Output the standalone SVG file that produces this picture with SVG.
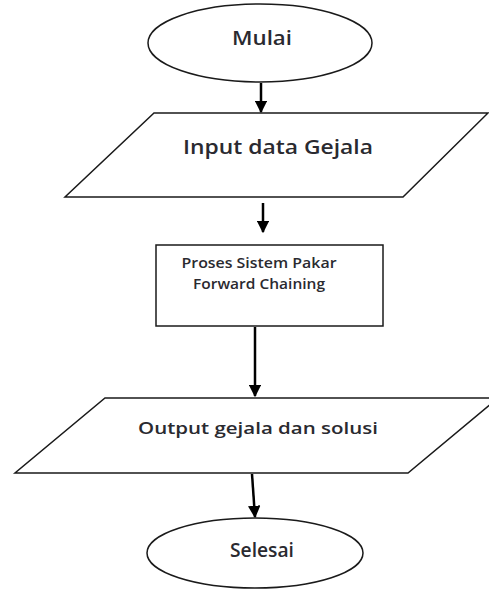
<svg xmlns="http://www.w3.org/2000/svg" width="489" height="590" viewBox="0 0 489 590">
<style>
.shape{fill:#ffffff;stroke:#1a1a1a;stroke-width:1.5}
.lbl{font-family:"Open Sans","Liberation Sans",sans-serif;font-weight:600;fill:#2a2a30;text-anchor:middle}
.conn{stroke:#000;stroke-width:2.5;fill:none}
</style>
<defs>
<marker id="arr" viewBox="0 0 10 10" refX="9" refY="5" markerWidth="5" markerHeight="5" markerUnits="strokeWidth" orient="auto">
<path d="M0,0 L10,5 L0,10 z" fill="#000"/>
</marker>
</defs>
<rect width="489" height="590" fill="#ffffff"/>
<g id="connectors">
<line class="conn" x1="261" y1="83" x2="261" y2="112" marker-end="url(#arr)"/>
<line class="conn" x1="263" y1="203" x2="263" y2="232" marker-end="url(#arr)"/>
<line class="conn" x1="255" y1="327" x2="255" y2="396" marker-end="url(#arr)"/>
<line class="conn" x1="252" y1="474" x2="255" y2="517" marker-end="url(#arr)"/>
</g>
<g id="mulai">
<ellipse class="shape" cx="260" cy="43" rx="112" ry="39"/>
<text class="lbl" x="262" y="45" font-size="19" textLength="60" lengthAdjust="spacingAndGlyphs">Mulai</text>
</g>
<g id="input">
<polygon class="shape" points="154,113 488,113 403,197 65,197"/>
<text class="lbl" x="278" y="154" font-size="20" textLength="190" lengthAdjust="spacingAndGlyphs">Input data Gejala</text>
</g>
<g id="proses">
<rect class="shape" x="156" y="245" width="227" height="81"/>
<text class="lbl" x="259" y="268" font-size="15" textLength="155" lengthAdjust="spacingAndGlyphs">Proses Sistem Pakar</text>
<text class="lbl" x="259" y="289" font-size="15" textLength="132" lengthAdjust="spacingAndGlyphs">Forward Chaining</text>
</g>
<g id="output">
<polygon class="shape" points="105,398 498,398 408,473 15,473"/>
<text class="lbl" x="258" y="434" font-size="17" textLength="240" lengthAdjust="spacingAndGlyphs">Output gejala dan solusi</text>
</g>
<g id="selesai">
<ellipse class="shape" cx="255" cy="553" rx="108" ry="35"/>
<text class="lbl" x="262" y="557" font-size="19" textLength="64" lengthAdjust="spacingAndGlyphs">Selesai</text>
</g>
</svg>
